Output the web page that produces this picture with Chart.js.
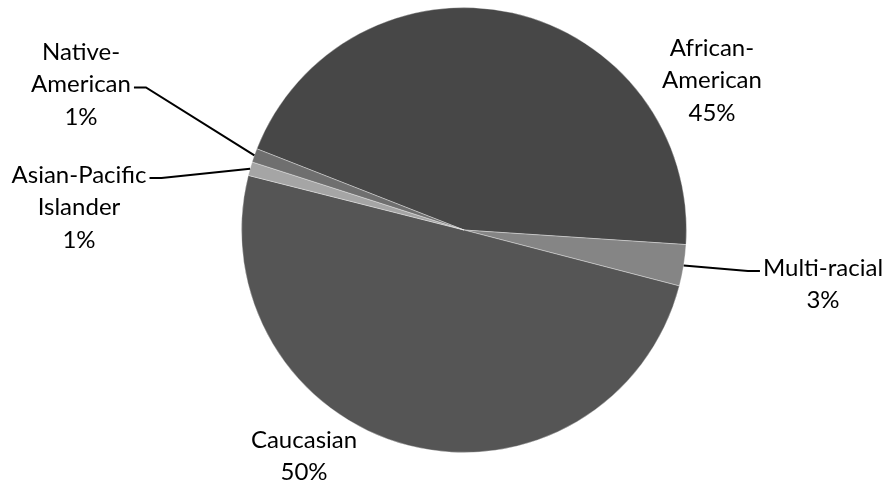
<!DOCTYPE html>
<html>
<head>
<meta charset="utf-8">
<script src="https://cdn.jsdelivr.net/npm/chart.js@4/dist/chart.umd.min.js"></script>
<style>
    html, body { margin: 0; padding: 0; background: #ffffff; }
    #wrap { width: 889px; height: 487px; position: relative; }
</style>
</head>
<body>
<div id="wrap"><canvas id="pieChart"></canvas></div>
<script>
// slices, clockwise from the start angle
const categories = ['African-American', 'Multi-racial', 'Caucasian', 'Asian-Pacific Islander', 'Native-American'];
const labelLines = [['African-', 'American'], ['Multi-racial'], ['Caucasian'], ['Asian-Pacific', 'Islander'], ['Native-', 'American']];
const shares = [45.1, 3.0, 49.9, 1.0, 1.0];
const sliceColors = ['#474747', '#858585', '#555555', '#a5a5a5', '#6f6f6f'];

// where each label sits relative to the pie centre, and which side the leader joins
const labelLayout = [
    { dx: 248, dy: -182, leader: null },
    { dx: 359, dy: 38, leader: { line: 0, side: 'left' } },
    { dx: -160, dy: 210, leader: null },
    { dx: -385, dy: -55, leader: { line: 0, side: 'right' } },
    { dx: -383, dy: -178, leader: { line: 1, side: 'right' } }
];

const FONT = '24px Lato, "Open Sans", sans-serif';
const LINE_H = 32.5;

const pieLabels = {
    id: 'pieLabels',
    afterDraw(chart) {
        const ctx = chart.ctx;
        const meta = chart.getDatasetMeta(0);
        const data = chart.data.datasets[0].data;
        const total = data.reduce((a, b) => a + b, 0);

        ctx.save();
        ctx.font = FONT;
        ctx.fillStyle = '#000000';
        ctx.textAlign = 'center';
        ctx.textBaseline = 'middle';

        meta.data.forEach((arc, i) => {
            const p = arc.getProps(['x', 'y', 'startAngle', 'endAngle', 'outerRadius'], true);
            const lay = labelLayout[i];
            const lines = labelLines[i].concat([Math.round(data[i] / total * 100) + '%']);
            const cx = p.x + lay.dx;
            const top = p.y + lay.dy;

            lines.forEach((t, k) => ctx.fillText(t, cx, top + k * LINE_H));

            if (lay.leader) {
                const mid = (p.startAngle + p.endAngle) / 2;
                const ax = p.x + Math.cos(mid) * p.outerRadius;
                const ay = p.y + Math.sin(mid) * p.outerRadius;
                const w = ctx.measureText(lines[lay.leader.line]).width;
                const ly = top + lay.leader.line * LINE_H + 3;
                const sx = lay.leader.side === 'right' ? cx + w / 2 + 3 : cx - w / 2 - 3;
                const ex = lay.leader.side === 'right' ? sx + 12 : sx - 12;

                ctx.beginPath();
                ctx.strokeStyle = '#000000';
                ctx.lineWidth = 2;
                ctx.moveTo(sx, ly);
                ctx.lineTo(ex, ly);
                ctx.lineTo(ax, ay);
                ctx.stroke();
            }
        });
        ctx.restore();
    }
};

new Chart(document.getElementById('pieChart'), {
    type: 'pie',
    data: {
        labels: categories,
        datasets: [{
            data: shares,
            backgroundColor: sliceColors,
            borderColor: 'rgba(255,255,255,0.35)',
            borderWidth: 1
        }]
    },
    options: {
        responsive: true,
        maintainAspectRatio: false,
        animation: false,
        rotation: 291.4,
        layout: {
            padding: { top: 7, bottom: 34, left: 39, right: 0 }
        },
        plugins: {
            legend: { display: false },
            tooltip: { enabled: false }
        }
    },
    plugins: [pieLabels]
});
</script>
</body>
</html>
